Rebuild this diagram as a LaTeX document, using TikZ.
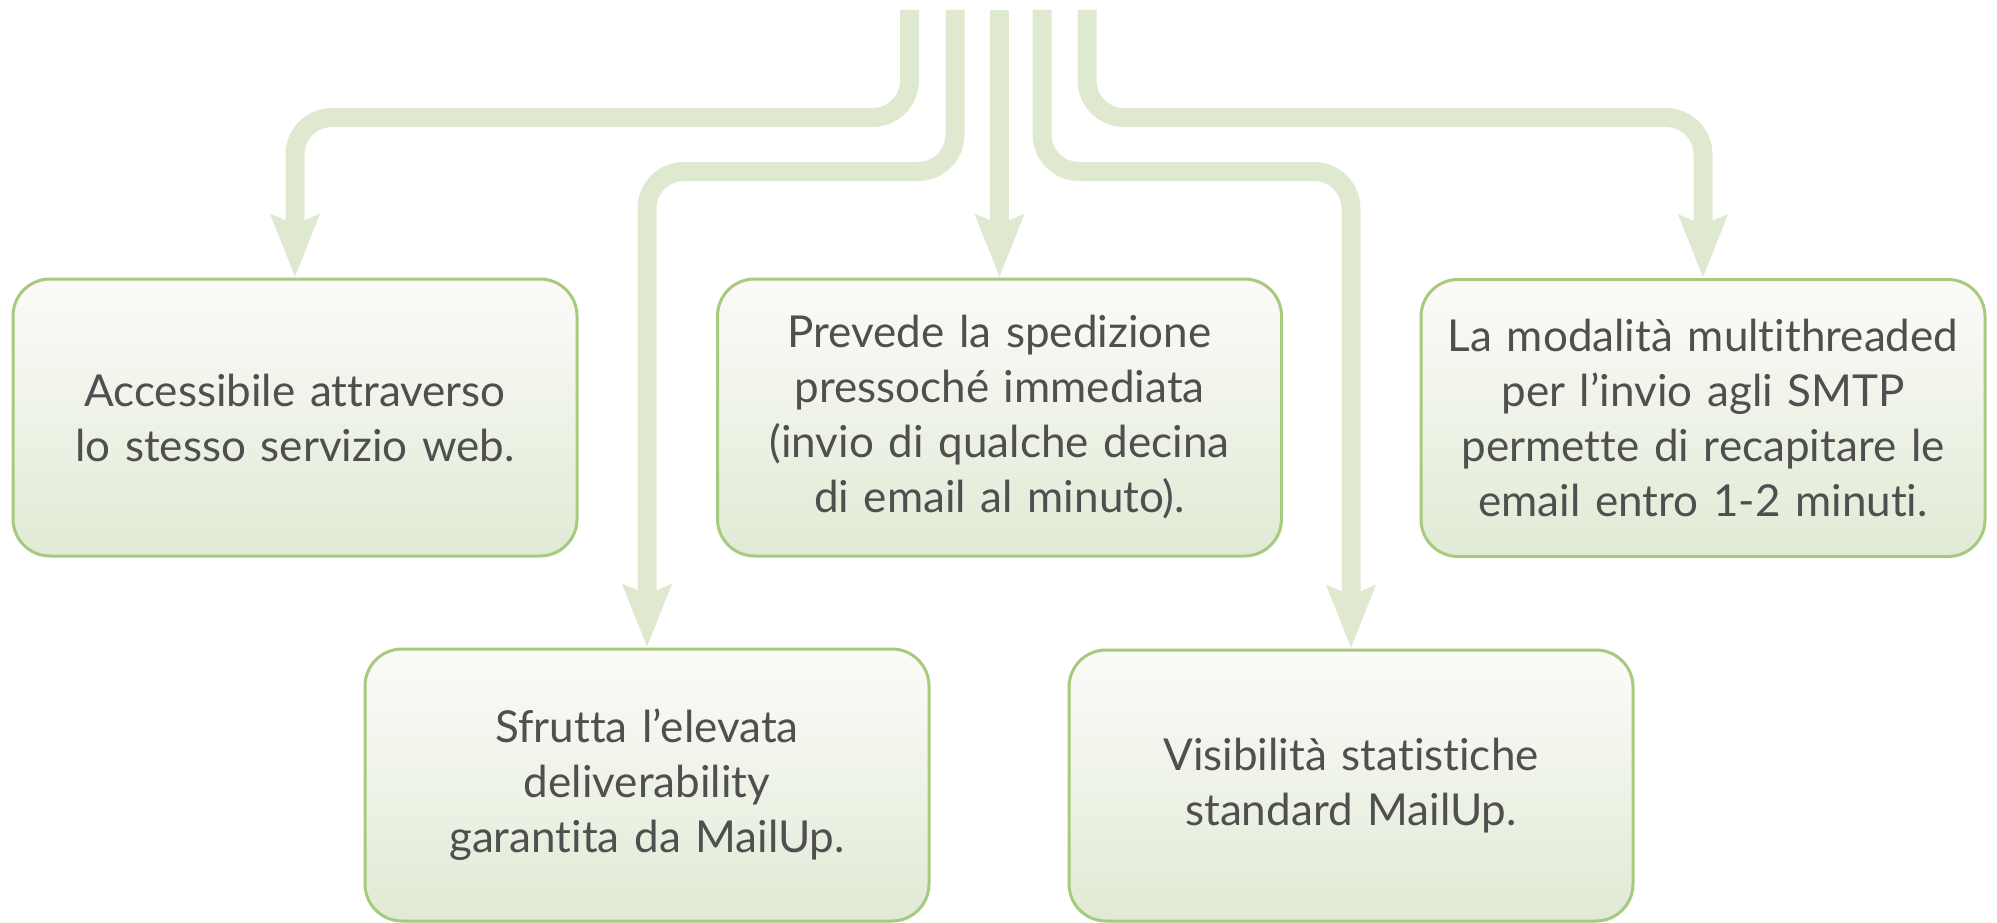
\documentclass[tikz,border=0pt]{standalone}
\usepackage{fontspec}
\setmainfont{Lato}[Ligatures={NoCommon,NoRare,NoContextual}]
\usetikzlibrary{arrows.meta}
\definecolor{connc}{HTML}{DFE9CF}
\definecolor{bordc}{HTML}{A6CA7E}
\definecolor{txtc}{HTML}{4F4F4F}
\definecolor{topc}{HTML}{FBFBF9}
\definecolor{botc}{HTML}{E1EAD5}
\begin{document}
\begin{tikzpicture}[x=1pt,y=-1pt,
  box/.style={draw=bordc, line width=3pt, rounded corners=37pt,
    top color=topc, bottom color=botc, minimum width=564pt,
    text width=530pt, align=center, text=txtc,
    font=\fontsize{44}{55}\selectfont, inner sep=0pt},
  conn/.style={draw=connc, line width=19pt, rounded corners=37pt,
    -{Stealth[length=62pt,width=47pt,inset=9pt,fill=connc,color=connc]}}]
\useasboundingbox (0,0) rectangle (1997,923);
\node[box, minimum height=277pt] (b1) at (295,417.5) {Accessibile attraverso\\lo stesso servizio web.};
\node[box, minimum height=277pt] (b3) at (999.5,417.5) {Prevede la spedizione\\pressoché immediata\\(invio di qualche decina\\di email al minuto).};
\node[box, minimum height=277pt] (b4) at (1703,418) {La modalità multithreaded\\per l’invio agli SMTP\\permette di recapitare le\\email entro 1-2 minuti.};
\node[box, minimum height=272pt] (b2) at (647,785) {Sfrutta l’elevata\\deliverability\\garantita da MailUp.};
\node[box, minimum height=271pt] (b5) at (1351,785.5) {Visibilità statistiche\\standard MailUp.};
\coordinate (s1) at (909.5,10);
\coordinate (s2) at (955,10);
\coordinate (s3) at (999.5,10);
\coordinate (s4) at (1042,10);
\coordinate (s5) at (1087,10);
\coordinate (hA) at (0,117.5);
\coordinate (hB) at (0,171.5);
\draw[conn] (s1) -- (s1 |- hA) -- (b1.north |- hA) -- (b1.north);
\draw[conn] (s2) -- (s2 |- hB) -- (b2.north |- hB) -- (b2.north);
\draw[conn] (s3) -- (b3.north);
\draw[conn] (s4) -- (s4 |- hB) -- (b5.north |- hB) -- (b5.north);
\draw[conn] (s5) -- (s5 |- hA) -- (b4.north |- hA) -- (b4.north);
\end{tikzpicture}
\end{document}
